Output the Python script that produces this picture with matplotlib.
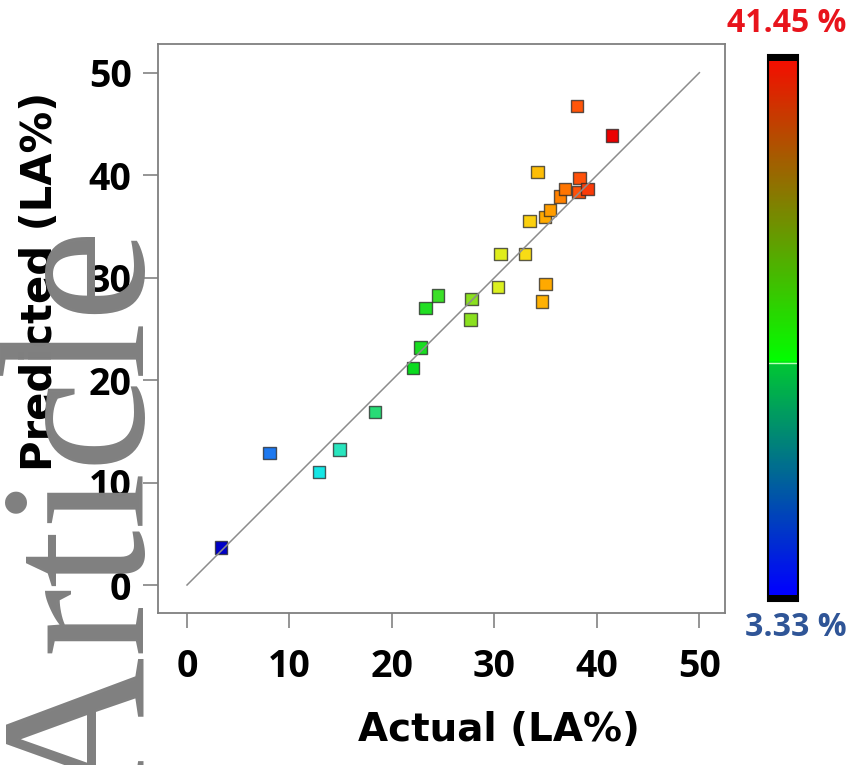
import numpy as np
import matplotlib
matplotlib.use("Agg")
import matplotlib.pyplot as plt
from matplotlib.colors import LinearSegmentedColormap, Normalize
from matplotlib.colorbar import ColorbarBase

# Actual vs predicted LA%
actual = [3.33, 8.03, 12.90, 14.89, 18.36, 22.04, 22.80, 23.27, 24.50,
          27.65, 27.75, 30.35, 30.61, 32.96, 33.43, 34.22, 34.62, 34.98,
          34.95, 35.41, 36.39, 36.86, 38.05, 38.20, 38.30, 39.10, 41.45]
predicted = [3.67, 12.88, 11.04, 13.21, 16.89, 21.19, 23.18, 27.05, 28.24,
             25.93, 27.91, 29.07, 32.28, 32.30, 35.54, 40.30, 27.66, 29.40,
             35.93, 36.62, 37.92, 38.65, 46.74, 38.35, 39.73, 38.65, 43.85]
ticks = [0, 10, 20, 30, 40, 50]
la_min, la_max = 3.33, 41.45
bar_mark = 19.9

plt.rcParams["font.family"] = ["Open Sans", "DejaVu Sans"]
plt.rcParams["font.weight"] = "bold"

point_cmap = LinearSegmentedColormap.from_list("pts", [
    (0.00, (0.00, 0.00, 0.78)),
    (0.12, (0.12, 0.47, 0.94)),
    (0.25, (0.08, 0.90, 0.90)),
    (0.30, (0.16, 0.90, 0.75)),
    (0.39, (0.16, 0.86, 0.47)),
    (0.49, (0.04, 0.86, 0.12)),
    (0.56, (0.24, 0.88, 0.16)),
    (0.64, (0.55, 0.88, 0.12)),
    (0.71, (0.86, 0.94, 0.12)),
    (0.78, (0.98, 0.86, 0.08)),
    (0.83, (1.00, 0.67, 0.00)),
    (0.88, (1.00, 0.47, 0.00)),
    (0.92, (1.00, 0.31, 0.04)),
    (1.00, (0.92, 0.00, 0.00)),
])
bar_cmap = LinearSegmentedColormap.from_list("bar", [
    (0.000, (0.00, 0.00, 1.00)),
    (0.434, (0.00, 0.78, 0.20)),
    (0.436, (0.00, 1.00, 0.00)),
    (1.000, (0.95, 0.06, 0.00)),
])
bar_cmap.set_over("black")
bar_cmap.set_under("black")
norm = Normalize(la_min, la_max)

fig = plt.figure(figsize=(8.52, 7.65), dpi=100)
ax = fig.add_axes([158 / 852, 1 - 613 / 765, 567 / 852, 569 / 765])

ax.scatter(actual, predicted, c=actual, cmap=point_cmap, norm=norm,
           marker="s", s=80, edgecolors=(0.15, 0.15, 0.15, 0.75),
           linewidths=1.0, zorder=2)
ax.plot([0, 50], [0, 50], color="#8c8c8c", lw=1.1, zorder=3)

ax.set_xlim(-2.83, 52.5)
ax.set_ylim(-2.73, 52.8)
ax.set_xticks(ticks)
ax.set_yticks(ticks)
for s in ax.spines.values():
    s.set_color("#7f7f7f")
    s.set_linewidth(1.3)
ax.tick_params(axis="both", direction="out", length=11, width=1.3,
               color="#8c8c8c", labelsize=27)
ax.tick_params(axis="x", pad=14)
ax.tick_params(axis="y", pad=8)
for lab in ax.get_xticklabels() + ax.get_yticklabels():
    lab.set_fontweight("bold")

fig.text(499 / 852, 1 - 730 / 765, "Actual (LA%)", fontsize=28,
         family="DejaVu Sans", fontweight="bold", ha="center", va="center")
fig.text(40 / 852, 1 - 281 / 765, "Predicted (LA%)", fontsize=30,
         family="DejaVu Sans", fontweight="bold", ha="center", va="center",
         rotation=90)

# colour scale
cax = fig.add_axes([768 / 852, 1 - 601 / 765, 30 / 852, 546 / 765])
cb = ColorbarBase(cax, cmap=bar_cmap, norm=norm, extend="both",
                  extendrect=True, extendfrac=0.012)
cb.set_ticks([])
cb.outline.set_edgecolor("black")
cb.outline.set_linewidth(1.5)
cax.axhline(bar_mark, color="#b8ffb8", lw=1)

fig.text(787 / 852, 1 - 24 / 765, f"{la_max:.2f} %", color="#e8141c",
         fontsize=23, fontweight="bold", ha="center", va="center")
fig.text(796 / 852, 1 - 627 / 765, f"{la_min:.2f} %", color="#2f5597",
         fontsize=23, fontweight="bold", ha="center", va="center")

# grey watermark down the left edge
fig.text(142 / 852, 1 - 805 / 765, "Article", color="#808080",
         fontsize=150, family="Liberation Serif", fontweight="normal",
         rotation=90, rotation_mode="anchor",
         ha="left", va="baseline", zorder=10)

fig.savefig("out.png", dpi=100)
